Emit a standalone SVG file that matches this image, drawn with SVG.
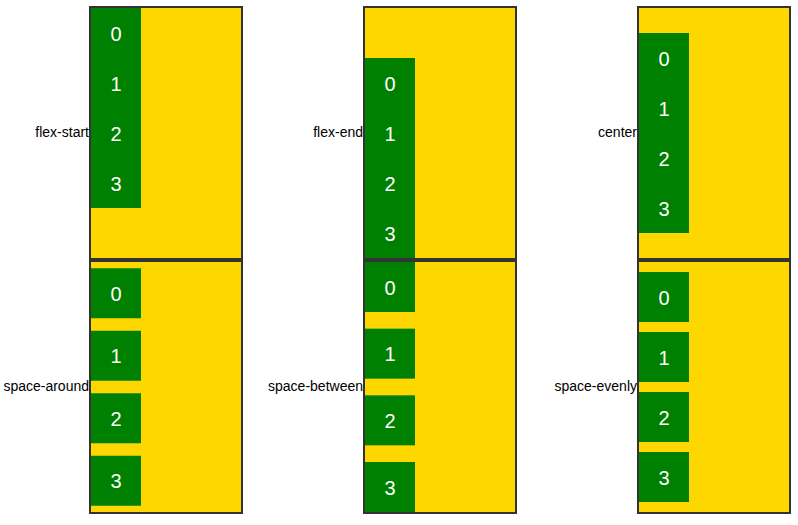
<svg xmlns="http://www.w3.org/2000/svg" width="798" height="525" viewBox="0 0 798 525">
<style>
.box{fill:#FFD700;stroke:#333;stroke-width:2}
.item{fill:#008000}
.num{fill:#fff;font-family:"Liberation Sans",Arial,sans-serif;font-size:20px;text-anchor:middle}
.lbl{fill:#000;font-family:"Liberation Sans",Arial,sans-serif;font-size:14px;text-anchor:end}
</style>
<rect width="798" height="525" fill="#fff"/>
<g id="flex-start">
<rect class="box" x="90" y="7" width="152" height="252"/>
<text class="lbl" x="89" y="137">flex-start</text>
<rect class="item" x="91" y="8" width="50" height="50"/><text class="num" x="116" y="40.5">0</text>
<rect class="item" x="91" y="58" width="50" height="50"/><text class="num" x="116" y="90.5">1</text>
<rect class="item" x="91" y="108" width="50" height="50"/><text class="num" x="116" y="140.5">2</text>
<rect class="item" x="91" y="158" width="50" height="50"/><text class="num" x="116" y="190.5">3</text>
</g>
<g id="flex-end">
<rect class="box" x="364" y="7" width="152" height="252"/>
<text class="lbl" x="363" y="137">flex-end</text>
<rect class="item" x="365" y="58" width="50" height="50"/><text class="num" x="390" y="90.5">0</text>
<rect class="item" x="365" y="108" width="50" height="50"/><text class="num" x="390" y="140.5">1</text>
<rect class="item" x="365" y="158" width="50" height="50"/><text class="num" x="390" y="190.5">2</text>
<rect class="item" x="365" y="208" width="50" height="50"/><text class="num" x="390" y="240.5">3</text>
</g>
<g id="center">
<rect class="box" x="638" y="7" width="152" height="252"/>
<text class="lbl" x="637" y="137">center</text>
<rect class="item" x="639" y="33" width="50" height="50"/><text class="num" x="664" y="65.5">0</text>
<rect class="item" x="639" y="83" width="50" height="50"/><text class="num" x="664" y="115.5">1</text>
<rect class="item" x="639" y="133" width="50" height="50"/><text class="num" x="664" y="165.5">2</text>
<rect class="item" x="639" y="183" width="50" height="50"/><text class="num" x="664" y="215.5">3</text>
</g>
<g id="space-around">
<rect class="box" x="90" y="261" width="152" height="252"/>
<text class="lbl" x="89" y="391">space-around</text>
<rect class="item" x="91" y="268.25" width="50" height="50"/><text class="num" x="116" y="300.75">0</text>
<rect class="item" x="91" y="330.75" width="50" height="50"/><text class="num" x="116" y="363.25">1</text>
<rect class="item" x="91" y="393.25" width="50" height="50"/><text class="num" x="116" y="425.75">2</text>
<rect class="item" x="91" y="455.75" width="50" height="50"/><text class="num" x="116" y="488.25">3</text>
</g>
<g id="space-between">
<rect class="box" x="364" y="261" width="152" height="252"/>
<text class="lbl" x="363" y="391">space-between</text>
<rect class="item" x="365" y="262" width="50" height="50"/><text class="num" x="390" y="294.5">0</text>
<rect class="item" x="365" y="328.67" width="50" height="50"/><text class="num" x="390" y="361.17">1</text>
<rect class="item" x="365" y="395.33" width="50" height="50"/><text class="num" x="390" y="427.83">2</text>
<rect class="item" x="365" y="462" width="50" height="50"/><text class="num" x="390" y="494.5">3</text>
</g>
<g id="space-evenly">
<rect class="box" x="638" y="261" width="152" height="252"/>
<text class="lbl" x="637" y="391">space-evenly</text>
<rect class="item" x="639" y="272" width="50" height="50"/><text class="num" x="664" y="304.5">0</text>
<rect class="item" x="639" y="332" width="50" height="50"/><text class="num" x="664" y="364.5">1</text>
<rect class="item" x="639" y="392" width="50" height="50"/><text class="num" x="664" y="424.5">2</text>
<rect class="item" x="639" y="452" width="50" height="50"/><text class="num" x="664" y="484.5">3</text>
</g>
</svg>
